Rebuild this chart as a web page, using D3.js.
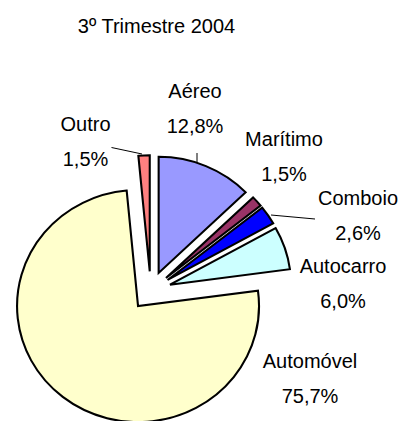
<!DOCTYPE html>
<html>
<head>
<meta charset="utf-8">
<script src="https://cdn.jsdelivr.net/npm/d3@7"></script>
<style>
  body { margin: 0; background: #fff; }
  text { font-family: "Liberation Sans", Arial, sans-serif; fill: #000; }
</style>
</head>
<body>
<div id="chart"></div>
<script>
const categories = ["Aéreo", "Marítimo", "Comboio", "Autocarro", "Automóvel", "Outro"];
const values = [12.8, 1.5, 2.6, 6.0, 75.7, 1.5];
const percentLabels = ["12,8%", "1,5%", "2,6%", "6,0%", "75,7%", "1,5%"];
const colors = ["#9999ff", "#993366", "#0000ff", "#ccffff", "#ffffcc", "#ff8080"];

const svg = d3.select("#chart")
  .append("svg")
  .attr("width", 401)
  .attr("height", 421);

// pie geometry (slightly wider than tall, like the original)
const cx = 150.7, cy = 290.8, radius = 116, stretchX = 1.043, explode = 19.5;

const pie = d3.pie().sort(null).value(d => d.value);
const arc = d3.arc().innerRadius(0).outerRadius(radius);

const color = d3.scaleOrdinal().domain(categories).range(colors);

const data = categories.map((c, i) => ({ name: c, value: values[i], pct: percentLabels[i] }));
const arcs = pie(data);

// Title
svg.append("text")
  .attr("x", 156.5)
  .attr("y", 32.5)
  .attr("text-anchor", "middle")
  .style("font-size", "20px")
  .text("3º Trimestre 2004");

const pieG = svg.append("g")
  .attr("transform", `translate(${cx},${cy}) scale(${stretchX},1)`);

pieG.selectAll("path")
  .data(arcs)
  .join("path")
  .attr("transform", d => {
    const a = (d.startAngle + d.endAngle) / 2;
    return `translate(${explode * Math.sin(a)},${-explode * Math.cos(a)})`;
  })
  .attr("d", arc)
  .attr("fill", d => color(d.data.name))
  .attr("stroke", "#000")
  .attr("stroke-width", 2)
  .attr("stroke-linejoin", "miter");

// Leader lines
const leaders = [
  [[111.5, 147.5], [142, 154]],
  [[197, 153], [197, 162]],
  [[271, 215], [315, 219]]
];
svg.selectAll("line.leader")
  .data(leaders)
  .join("line")
  .attr("class", "leader")
  .attr("x1", d => d[0][0]).attr("y1", d => d[0][1])
  .attr("x2", d => d[1][0]).attr("y2", d => d[1][1])
  .attr("stroke", "#000")
  .attr("stroke-width", 1);

// Label anchors (centre x, baseline of first line)
const labelPos = {
  "Aéreo": [195, 98],
  "Marítimo": [284, 146],
  "Comboio": [358, 205],
  "Autocarro": [343, 272.5],
  "Automóvel": [310, 368],
  "Outro": [85.5, 130.5]
};

const labels = svg.selectAll("g.label")
  .data(data)
  .join("g")
  .attr("class", "label")
  .attr("transform", d => `translate(${labelPos[d.name][0]},${labelPos[d.name][1]})`);

labels.append("text")
  .attr("text-anchor", "middle")
  .style("font-size", "20px")
  .text(d => d.name);

labels.append("text")
  .attr("y", 35)
  .attr("text-anchor", "middle")
  .style("font-size", "20px")
  .text(d => d.pct);
</script>
</body>
</html>
